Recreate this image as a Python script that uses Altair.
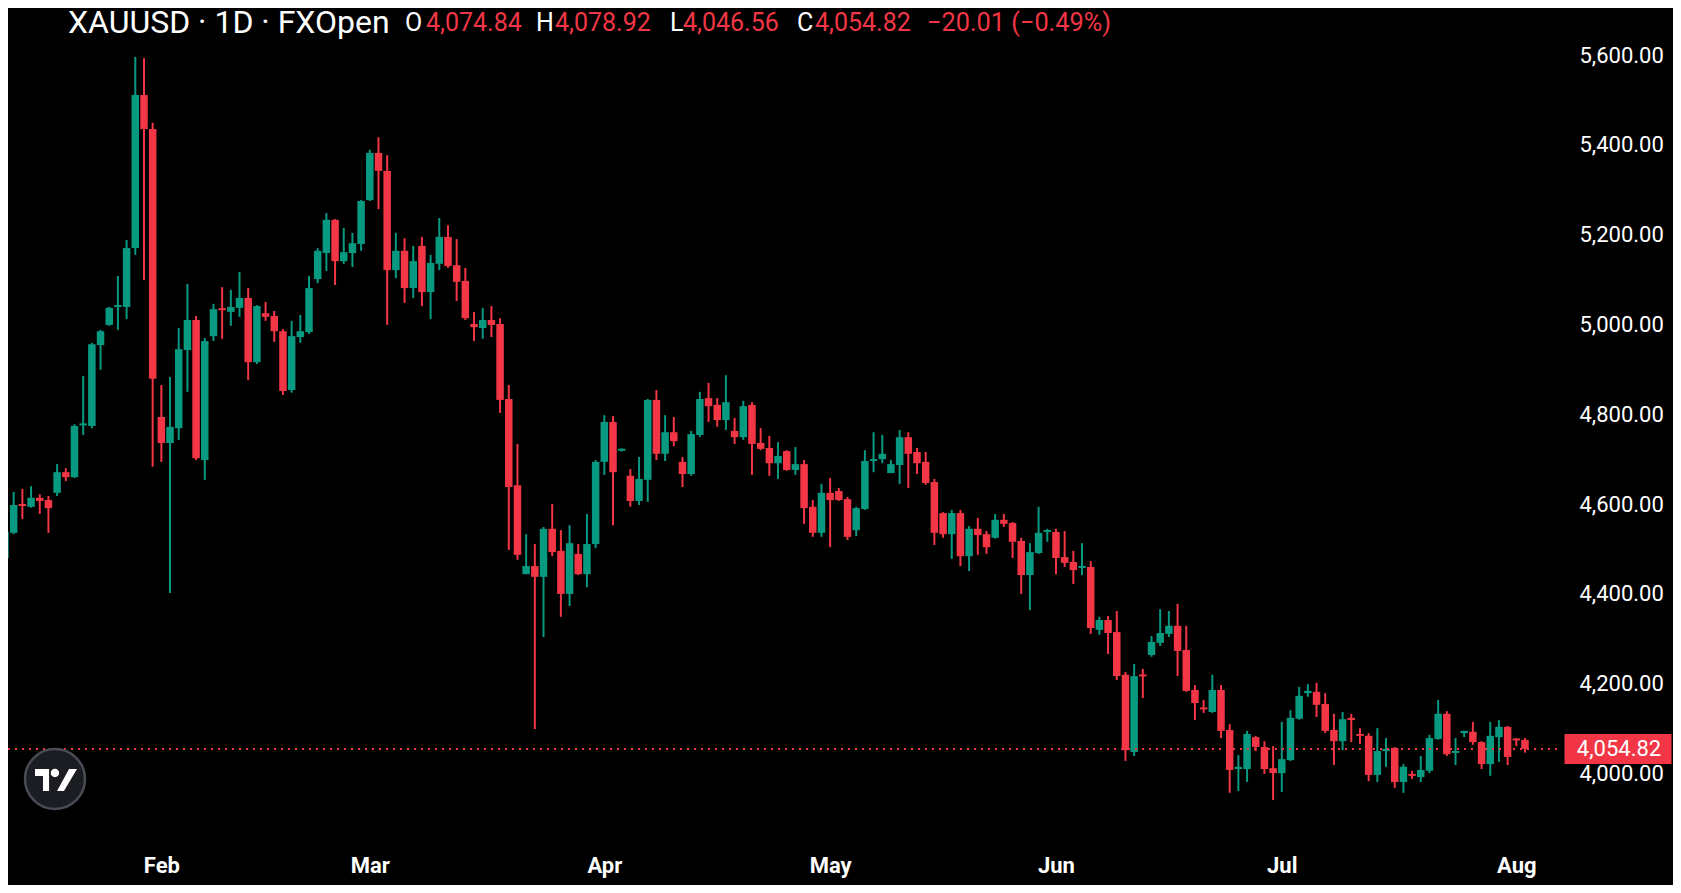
import altair as alt
import pandas as pd
import numpy as np

# ---- daily candles (index 0 .. 175) ----
OPEN = [4480, 4536, 4600, 4594, 4614, 4609, 4625, 4671, 4660, 4776,
        4774, 4954, 4999, 5039, 5039, 5170, 5511, 5435, 4794, 4736,
        4769, 4943, 5010, 4698, 4974, 5036, 5028, 5037, 5059, 4916,
        5025, 5019, 4985, 4854, 4972, 4983, 5101, 5159, 5233, 5141,
        5159, 5179, 5277, 5382, 5342, 5121, 5164, 5081, 5175, 5072,
        5135, 5195, 5132, 5097, 5001, 4992, 5010, 5001, 4834, 4642,
        4444, 4462, 4438, 4545, 4496, 4400, 4489, 4444, 4511, 4694,
        4783, 4719, 4663, 4607, 4654, 4832, 4712, 4760, 4694, 4667,
        4754, 4836, 4821, 4787, 4763, 4749, 4821, 4736, 4725, 4691,
        4718, 4676, 4689, 4594, 4536, 4625, 4629, 4611, 4542, 4589,
        4696, 4700, 4669, 4687, 4749, 4716, 4694, 4649, 4580, 4533,
        4580, 4484, 4545, 4533, 4525, 4565, 4558, 4518, 4442, 4491,
        4538, 4538, 4482, 4471, 4458, 4460, 4320, 4342, 4315, 4220,
        4048, 4220, 4264, 4291, 4311, 4329, 4275, 4186, 4146, 4137,
        4186, 4097, 4010, 4010, 4081, 4059, 4012, 4001, 4030, 4122,
        4179, 4182, 4155, 4097, 4072, 4124, 4088, 4084, 3997, 4050,
        4057, 3981, 3999, 3992, 4006, 4077, 4133, 4046, 4090, 4093,
        4070, 4021, 4081, 4104, 4077, 4074.84]
HIGH = [4542, 4627, 4634, 4640, 4622, 4618, 4689, 4680, 4778, 4885,
        4959, 4988, 5039, 5108, 5188, 5596, 5593, 5449, 4865, 4883,
        4992, 5090, 5019, 4970, 5046, 5083, 5077, 5117, 5081, 5043,
        5050, 5030, 4990, 5008, 5021, 5108, 5170, 5248, 5235, 5215,
        5204, 5277, 5389, 5417, 5377, 5204, 5192, 5175, 5195, 5155,
        5237, 5221, 5190, 5126, 5028, 5037, 5041, 5014, 4865, 4734,
        4533, 4511, 4549, 4600, 4542, 4553, 4511, 4578, 4698, 4798,
        4796, 4724, 4678, 4705, 4834, 4854, 4798, 4794, 4705, 4763,
        4850, 4870, 4836, 4887, 4792, 4830, 4827, 4769, 4752, 4738,
        4720, 4727, 4698, 4609, 4645, 4658, 4636, 4616, 4594, 4720,
        4760, 4754, 4698, 4765, 4760, 4725, 4716, 4656, 4582, 4587,
        4587, 4551, 4569, 4540, 4578, 4578, 4560, 4525, 4513, 4594,
        4545, 4545, 4540, 4496, 4513, 4473, 4349, 4351, 4362, 4226,
        4244, 4233, 4306, 4366, 4362, 4378, 4329, 4197, 4164, 4220,
        4197, 4110, 4041, 4095, 4084, 4072, 4061, 4115, 4141, 4193,
        4199, 4202, 4179, 4133, 4137, 4133, 4101, 4090, 4101, 4079,
        4059, 4021, 4006, 4039, 4086, 4164, 4139, 4079, 4095, 4115,
        4072, 4115, 4119, 4106, 4079, 4078.92]
LOW = [4471, 4533, 4567, 4592, 4578, 4536, 4618, 4651, 4658, 4754,
       4769, 4899, 4997, 4988, 5012, 5155, 5099, 4683, 4694, 4402,
       4743, 4850, 4698, 4654, 4963, 4968, 4997, 5017, 4876, 4912,
       5008, 4961, 4843, 4848, 4959, 4979, 5092, 5119, 5088, 5135,
       5128, 5164, 5275, 5257, 4999, 5103, 5048, 5059, 5041, 5012,
       5121, 5126, 5052, 5010, 4963, 4968, 4972, 4803, 4498, 4476,
       4444, 4099, 4304, 4484, 4349, 4373, 4442, 4415, 4502, 4665,
       4553, 4717, 4594, 4598, 4605, 4698, 4696, 4729, 4638, 4663,
       4749, 4783, 4772, 4765, 4734, 4743, 4665, 4720, 4663, 4656,
       4674, 4665, 4556, 4527, 4527, 4504, 4607, 4520, 4529, 4587,
       4671, 4691, 4669, 4645, 4636, 4667, 4643, 4509, 4525, 4478,
       4462, 4451, 4487, 4489, 4523, 4549, 4480, 4400, 4364, 4489,
       4516, 4444, 4460, 4422, 4442, 4311, 4309, 4266, 4208, 4028,
       4039, 4168, 4260, 4284, 4304, 4217, 4182, 4119, 4135, 4135,
       4079, 3957, 3961, 3981, 4050, 3999, 3941, 3959, 4028, 4120,
       4171, 4126, 4090, 4019, 4052, 4070, 4066, 3983, 3981, 4015,
       3968, 3957, 3988, 3981, 4001, 4075, 4039, 4019, 4081, 4064,
       4010, 3995, 4026, 4019, 4061, 4046.56]
CLOSE = [4538, 4598, 4596, 4614, 4607, 4591, 4671, 4660, 4774, 4779,
         4956, 4985, 5037, 5043, 5170, 5511, 5435, 4879, 4736, 4772,
         4945, 5010, 4702, 4963, 5034, 5032, 5039, 5059, 4916, 5041,
         5017, 4985, 4852, 4974, 4985, 5081, 5164, 5233, 5141, 5161,
         5181, 5275, 5382, 5342, 5121, 5164, 5081, 5141, 5072, 5137,
         5195, 5130, 5095, 5014, 4994, 5010, 4999, 4832, 4638, 4487,
         4462, 4438, 4545, 4493, 4400, 4513, 4444, 4511, 4694, 4783,
         4671, 4723, 4607, 4656, 4832, 4712, 4760, 4740, 4667, 4756,
         4834, 4818, 4787, 4827, 4749, 4818, 4734, 4723, 4691, 4707,
         4676, 4689, 4591, 4536, 4625, 4609, 4609, 4527, 4591, 4696,
         4700, 4712, 4689, 4749, 4712, 4691, 4647, 4536, 4533, 4580,
         4484, 4545, 4531, 4504, 4565, 4556, 4516, 4442, 4493, 4536,
         4542, 4480, 4469, 4453, 4462, 4324, 4342, 4313, 4217, 4052,
         4217, 4217, 4293, 4313, 4329, 4273, 4184, 4157, 4144, 4186,
         4095, 4008, 4015, 4088, 4059, 4010, 4001, 4032, 4124, 4173,
         4184, 4153, 4095, 4072, 4121, 4119, 4084, 3997, 4050, 4055,
         3981, 4015, 3995, 4008, 4079, 4133, 4043, 4050, 4095, 4070,
         4021, 4084, 4104, 4037, 4074.83, 4054.82]

MONTH_LABELS = ["Feb", "Mar", "Apr", "May", "Jun", "Jul", "Aug"]
MONTH_START_IDX = [18, 42, 69, 95, 121, 147, 174]
PRICE_TICKS = [4000, 4200, 4400, 4600, 4800, 5000, 5200, 5400, 5600]
SYMBOL = "XAUUSD · 1D · FXOpen"

UP = "#089981"
DOWN = "#f23645"
WHITE = "#ffffff"
FONT = "Roboto"

# ---- table ----
n = len(CLOSE)
df = pd.DataFrame({"i": np.arange(n), "o": OPEN, "h": HIGH, "l": LOW, "c": CLOSE})
df["dir"] = np.where(df["c"] >= df["o"], "up", "down")
mid = (df["o"] + df["c"]) / 2
half = np.maximum((df["o"] - df["c"]).abs() / 2, 2.2)
df["b0"] = mid - half
df["b1"] = mid + half

PLOT_W, PLOT_H = 1552, 832
xs = alt.Scale(domain=[0.345, 179.03], nice=False, zero=False)
ys = alt.Scale(domain=[3852, 5704.7], nice=False, zero=False)

label_expr = "''"
for v, lab in reversed(list(zip(MONTH_START_IDX, MONTH_LABELS))):
    label_expr = f"datum.value == {v} ? '{lab}' : ({label_expr})"

xaxis = alt.Axis(values=MONTH_START_IDX, labelExpr=label_expr, title=None,
                 domain=False, ticks=False, grid=False, labelColor=WHITE,
                 labelFontSize=22, labelFontWeight="bold", labelFont=FONT,
                 labelPadding=25, labelBaseline="middle", labelAlign="center",
                 labelFlush=False, labelOverlap=False)
yaxis = alt.Axis(orient="right", values=PRICE_TICKS, format=",.2f", title=None,
                 domain=False, ticks=False, grid=False, labelColor=WHITE,
                 labelFontSize=22, labelFont=FONT, labelPadding=19,
                 labelAlign="left", labelBaseline="middle", labelFlush=False,
                 labelOverlap=False)
color = alt.Color("dir:N", scale=alt.Scale(domain=["up", "down"], range=[UP, DOWN]),
                  legend=None)

base = alt.Chart(df)
wicks = base.mark_rule(strokeWidth=2).encode(
    x=alt.X("i:Q", scale=xs, axis=xaxis),
    y=alt.Y("l:Q", scale=ys, axis=yaxis), y2="h:Q", color=color)
bodies = base.mark_rule(strokeWidth=7.5).encode(
    x=alt.X("i:Q", scale=xs, axis=xaxis),
    y=alt.Y("b0:Q", scale=ys, axis=yaxis), y2="b1:Q", color=color)

# ---- last price line + label ----
last = pd.DataFrame({"p": [CLOSE[-1]], "label": [f"{CLOSE[-1]:,.2f}"]})
last_color = DOWN if CLOSE[-1] < OPEN[-1] else UP
pline = alt.Chart(last).mark_rule(strokeDash=[2, 5], strokeWidth=2, color=last_color).encode(
    y=alt.Y("p:Q", scale=ys, axis=yaxis), x=alt.value(0), x2=alt.value(PLOT_W))
BOX_PATH = "M-1,-0.28L1,-0.28L1,0.28L-1,0.28Z"
pbox = alt.Chart(last).mark_point(shape=BOX_PATH, size=11449, filled=True, opacity=1,
                                  color=last_color, strokeWidth=0).encode(
    y=alt.Y("p:Q", scale=ys, axis=yaxis), x=alt.value(1610))
ptext = alt.Chart(last).mark_text(color=WHITE, fontSize=22, font=FONT, align="center",
                                  baseline="middle").encode(
    y=alt.Y("p:Q", scale=ys, axis=yaxis), x=alt.value(1611), text="label:N")

# ---- header ----
chg = CLOSE[-1] - CLOSE[-2]
pct = chg / CLOSE[-2] * 100
sign = "\u2212" if chg < 0 else "+"
chg_text = f"{sign}{abs(chg):,.2f} ({sign}{abs(pct):.2f}%)"
dummy = alt.Data(values=[{"k": 1}])
header_items = [
    (SYMBOL, 60, WHITE, 32),
    ("O", 397, WHITE, 25), (f"{OPEN[-1]:,.2f}", 418, DOWN, 25),
    ("H", 528, WHITE, 25), (f"{HIGH[-1]:,.2f}", 547, DOWN, 25),
    ("L", 662, WHITE, 25), (f"{LOW[-1]:,.2f}", 675, DOWN, 25),
    ("C", 789, WHITE, 25), (f"{CLOSE[-1]:,.2f}", 807, DOWN, 25),
    (chg_text, 919, DOWN, 25.3),
]
header_layers = [
    alt.Chart(dummy).mark_text(text=t, color=col, fontSize=fs, font=FONT,
                               align="left", baseline="middle").encode(
        x=alt.value(xp), y=alt.value(15))
    for t, xp, col, fs in header_items
]

# ---- logo ----
LOGO_PATH = ("M-1,-0.52L-0.33,-0.52L-0.33,0.52L-0.62,0.52L-0.62,-0.19L-1,-0.19Z "
             "M-0.25,-0.33A0.2,0.2 0 1,0 0.15,-0.33A0.2,0.2 0 1,0 -0.25,-0.33Z "
             "M0.05,0.52L0.62,-0.52L1,-0.52L0.38,0.52Z")
logo_circle = alt.Chart(dummy).mark_point(shape="circle", size=3600, filled=True, opacity=1,
                                          fill="#1c1d22", stroke="#4a4c55", strokeWidth=2.5).encode(
    x=alt.value(47), y=alt.value(771))
logo_mark = alt.Chart(dummy).mark_point(shape=LOGO_PATH, size=1764, filled=True, opacity=1,
                                        fill=WHITE, strokeWidth=0).encode(
    x=alt.value(48), y=alt.value(772))

chart = alt.layer(wicks, bodies, pline, pbox, ptext, *header_layers, logo_circle, logo_mark).properties(
    width=PLOT_W, height=PLOT_H,
    padding={"left": 0, "top": 0, "right": 113, "bottom": 45},
    autosize=alt.AutoSizeParams(type="none"),
    background="#000000",
).configure_view(strokeWidth=0)

chart.save("out.html", embed_options={"renderer": "svg", "actions": False})
